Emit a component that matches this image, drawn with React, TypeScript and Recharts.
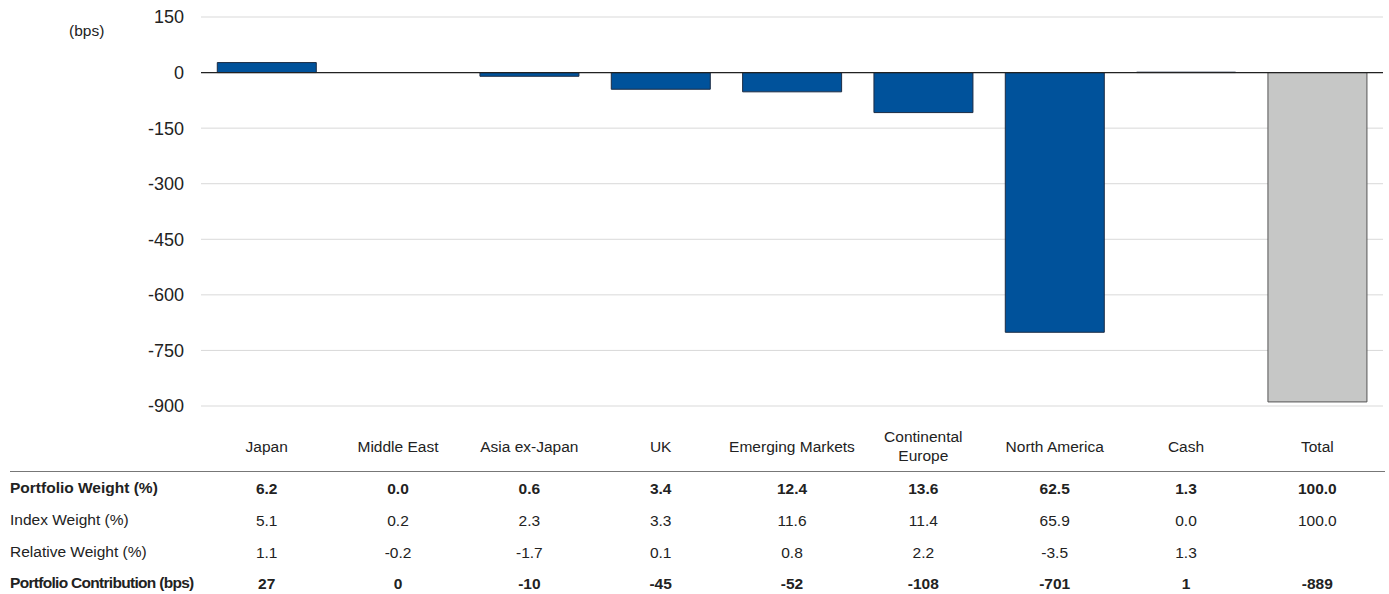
import React from "react";
import {
  BarChart,
  Bar,
  Cell,
  XAxis,
  YAxis,
  CartesianGrid,
  ReferenceLine,
} from "recharts";

const categories = [
  "Japan",
  "Middle East",
  "Asia ex-Japan",
  "UK",
  "Emerging Markets",
  "Continental Europe",
  "North America",
  "Cash",
  "Total",
];
const portfolioWeight = [6.2, 0.0, 0.6, 3.4, 12.4, 13.6, 62.5, 1.3, 100.0];
const indexWeight = [5.1, 0.2, 2.3, 3.3, 11.6, 11.4, 65.9, 0.0, 100.0];
const relativeWeight: (number | null)[] = [1.1, -0.2, -1.7, 0.1, 0.8, 2.2, -3.5, 1.3, null];
const contribution = [27, 0, -10, -45, -52, -108, -701, 1, -889];
const yTicks = [150, 0, -150, -300, -450, -600, -750, -900];

const rowLabels = [
  { label: "Portfolio Weight (%)", bold: true },
  { label: "Index Weight (%)", bold: false },
  { label: "Relative Weight (%)", bold: false },
  { label: "Portfolio Contribution (bps)", bold: true },
];

const data = categories.map((name, i) => ({ name, value: contribution[i] }));

const FONT = "'Liberation Sans', Arial, Helvetica, sans-serif";
const TEXT = "#222";
const BLUE = "#00529b";
const GREY = "#c6c7c6";

// vertical offsets (from the axis line) of the label and each table row
const LABEL_DY = 40;
const ROW_DY = [82, 114, 146, 177];

const fmt1 = (v: number | null) => (v === null ? "" : v.toFixed(1));

const CategoryTick = (props: any) => {
  const { x, y, payload } = props;
  const name: string = payload.value;
  const i = categories.indexOf(name);
  const lines = name.length > 16 ? [name.slice(0, name.lastIndexOf(" ")), name.slice(name.lastIndexOf(" ") + 1)] : [name];
  const cells = [
    { text: fmt1(portfolioWeight[i]), bold: true },
    { text: fmt1(indexWeight[i]), bold: false },
    { text: fmt1(relativeWeight[i]), bold: false },
    { text: String(contribution[i]), bold: true },
  ];
  return (
    <g>
      {lines.map((line, k) => (
        <text
          key={k}
          x={x}
          y={y + (lines.length === 1 ? LABEL_DY : LABEL_DY - 10 + k * 19)}
          textAnchor="middle"
          dominantBaseline="central"
          fontSize={15.5}
          fontFamily={FONT}
          fill={TEXT}
        >
          {line}
        </text>
      ))}
      {cells.map((c, r) => (
        <text
          key={`r${r}`}
          x={x}
          y={y + ROW_DY[r]}
          textAnchor="middle"
          dominantBaseline="central"
          fontSize={15.5}
          fontWeight={c.bold ? "bold" : "normal"}
          fontFamily={FONT}
          fill={TEXT}
        >
          {c.text}
        </text>
      ))}
    </g>
  );
};

export default function App() {
  return (
    <div style={{ position: "absolute", left: 0, top: 0, width: 1389, height: 594, background: "#fff", fontFamily: FONT }}>
      <div style={{ position: "absolute", left: 69, top: 22, fontSize: 15.5, color: TEXT }}>(bps)</div>
      <div style={{ position: "absolute", left: 10, top: 471, width: 1375, borderTop: "1px solid #777" }} />
      {rowLabels.map((r, k) => (
        <div
          key={r.label}
          style={{
            position: "absolute",
            left: 10,
            top: 406 + ROW_DY[k] - 10,
            height: 20,
            lineHeight: "20px",
            fontSize: 15.5,
            fontWeight: r.bold ? "bold" : "normal",
            letterSpacing: r.label.length > 24 ? -0.7 : 0,
            color: TEXT,
            whiteSpace: "nowrap",
          }}
        >
          {r.label}
        </div>
      ))}
      <div style={{ position: "absolute", left: 0, top: 0 }}>
        <BarChart
          width={1389}
          height={594}
          data={data}
          margin={{ top: 17, right: 6, bottom: 0, left: 0 }}
          barCategoryGap="12.4%"
        >
          <CartesianGrid vertical={false} stroke="#d9d9d9" />
          <YAxis
            type="number"
            domain={[-900, 150]}
            ticks={yTicks}
            width={201}
            axisLine={false}
            tickLine={false}
            tickSize={0}
            tickMargin={17}
            interval={0}
            tick={{ fontSize: 18, fill: TEXT, fontFamily: FONT }}
          />
          <XAxis
            dataKey="name"
            height={188}
            axisLine={false}
            tickLine={false}
            tickSize={0}
            tickMargin={0}
            interval={0}
            tick={<CategoryTick />}
          />
          <ReferenceLine y={0} stroke="#222" strokeWidth={1.2} />
          <Bar dataKey="value" isAnimationActive={false} strokeWidth={1}>
            {data.map((d, i) => (
              <Cell
                key={d.name}
                fill={d.name === "Total" ? GREY : BLUE}
                stroke={d.name === "Total" ? "#555" : "#1c2c44"}
              />
            ))}
          </Bar>
        </BarChart>
      </div>
    </div>
  );
}
